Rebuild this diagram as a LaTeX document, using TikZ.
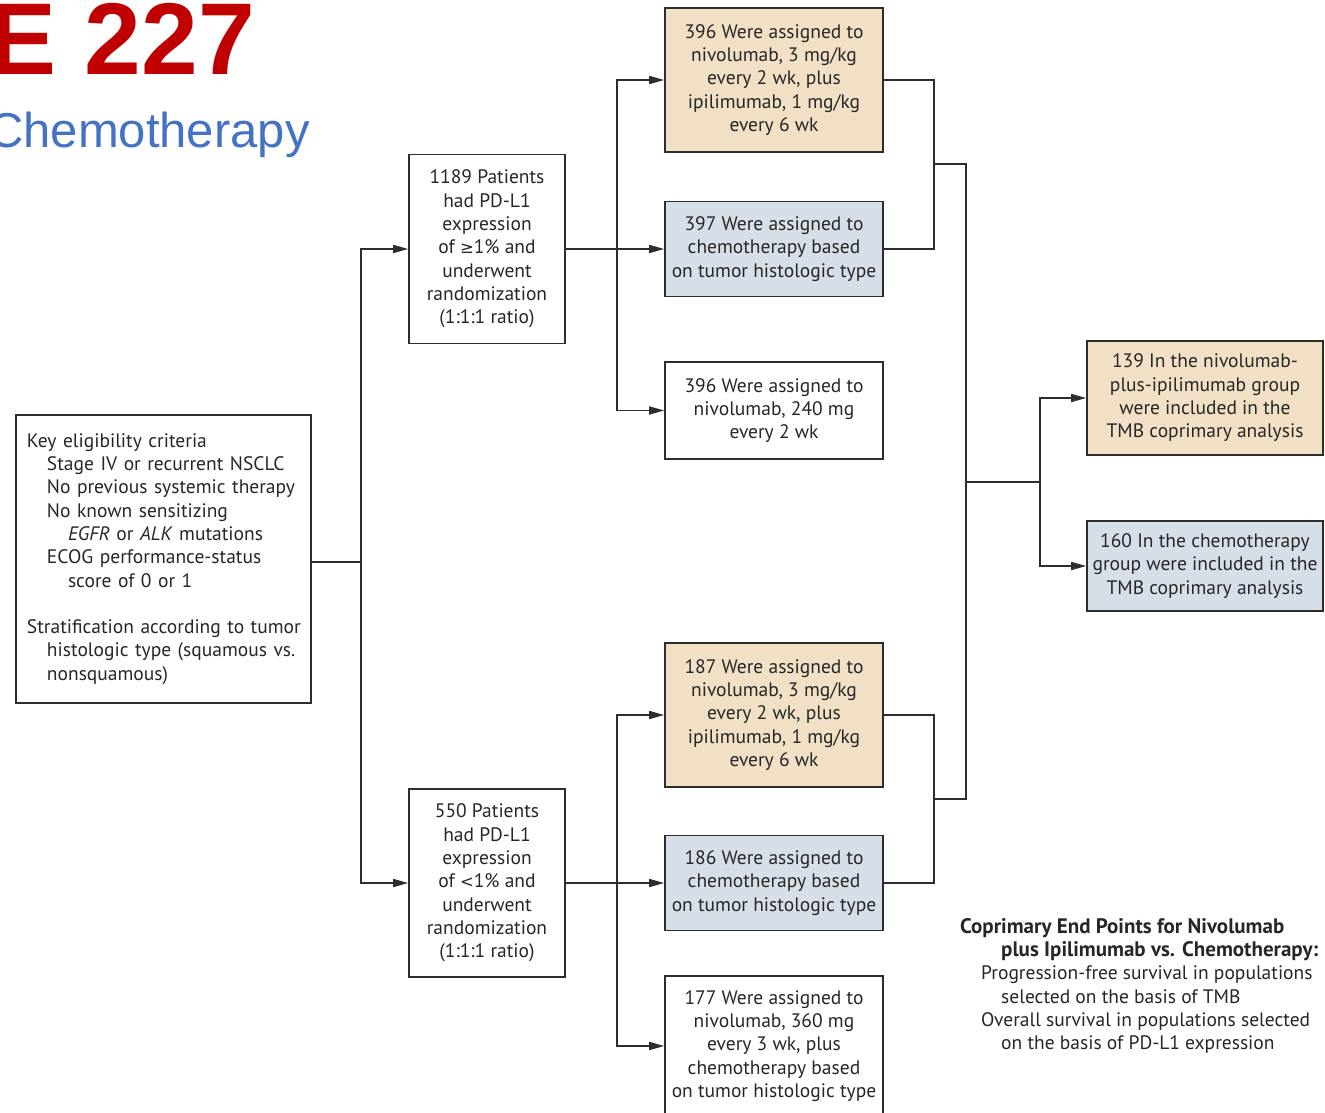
\documentclass[tikz,border=0pt]{standalone}
\usepackage{fontspec}
\setmainfont{PT Sans}
\newfontfamily\symf{DejaVu Sans}
\newfontfamily\arialf{Liberation Sans}
\usetikzlibrary{arrows.meta}
\definecolor{tanfill}{RGB}{242,224,198}
\definecolor{bluefill}{RGB}{214,223,231}
\definecolor{linec}{RGB}{45,45,45}
\definecolor{titlered}{RGB}{192,0,0}
\definecolor{titleblue}{RGB}{68,114,196}
\newcommand{\kline}[2][0pt]{\hspace*{#1}\mbox{#2}}
\begin{document}
\begin{tikzpicture}[x=1pt,y=-1pt,
  box/.style={draw=linec,line width=1.6pt,align=center,inner sep=0pt,
    font=\fontsize{19.5}{23.3}\selectfont,text=black!85},
  tanbox/.style={box,fill=tanfill},
  bluebox/.style={box,fill=bluefill},
  conn/.style={draw=linec,line width=1.6pt},
  arr/.style={conn,-{Triangle[length=15pt,width=8pt]}},
  ]
\useasboundingbox (0,0) rectangle (1325,1113);
\begin{scope}
\clip (0,0) rectangle (1325,1113);
% title
\node[anchor=base west,inner sep=0pt,text=titlered,font=\arialf\bfseries\fontsize{102}{102}\selectfont] (t227) at (-11.5,75) {E 227};
\node[anchor=base west,inner sep=0pt,text=titleblue,font=\arialf\fontsize{49}{49}\selectfont] (tchemo) at (-12,148) {Chemotherapy};
% key box
\node[box,align=left,text width=273pt,minimum height=288pt,inner xsep=11pt] (key) at (163.5,559) {\kline{Key eligibility criteria}\\
\kline[20pt]{Stage IV or recurrent NSCLC}\\
\kline[20pt]{No previous systemic therapy}\\
\kline[20pt]{No known sensitizing}\\
\kline[41pt]{\textit{EGFR} or \textit{ALK} mutations}\\
\kline[20pt]{ECOG performance-status}\\
\kline[41pt]{score of 0 or 1}\\[23.3pt]
\kline{Stratification according to tumor}\\
\kline[20pt]{histologic type (squamous vs.}\\
\kline[20pt]{nonsquamous)}};
% patients boxes
\node[box,minimum width=156pt,minimum height=189pt] (p1) at (487,249) {1189 Patients\\had PD-L1\\expression\\of {\symf\fontsize{16.5}{23.3}\selectfont ≥}1\% and\\underwent\\randomization\\(1:1:1 ratio)};
\node[box,minimum width=156pt,minimum height=188pt] (p2) at (487,883) {550 Patients\\had PD-L1\\expression\\of {\symf\fontsize{16.5}{23.3}\selectfont <}1\% and\\underwent\\randomization\\(1:1:1 ratio)};
% arms top
\node[tanbox,minimum width=218pt,minimum height=144pt] (a1) at (774,80) {396 Were assigned to\\nivolumab, 3 mg/kg\\every 2 wk, plus\\ipilimumab, 1 mg/kg\\every 6 wk};
\node[bluebox,minimum width=218pt,minimum height=95pt] (a2) at (774,249) {397 Were assigned to\\chemotherapy based\\on tumor histologic type};
\node[box,minimum width=218pt,minimum height=97pt] (a3) at (774,410.5) {396 Were assigned to\\nivolumab, 240 mg\\every 2 wk};
% arms bottom
\node[tanbox,minimum width=218pt,minimum height=144pt] (b1) at (774,715) {187 Were assigned to\\nivolumab, 3 mg/kg\\every 2 wk, plus\\ipilimumab, 1 mg/kg\\every 6 wk};
\node[bluebox,minimum width=218pt,minimum height=95pt] (b2) at (774,883) {186 Were assigned to\\chemotherapy based\\on tumor histologic type};
\node[box,minimum width=218pt,minimum height=140pt] (b3) at (774,1046) {177 Were assigned to\\nivolumab, 360 mg\\every 3 wk, plus\\chemotherapy based\\on tumor histologic type};
% TMB boxes
\node[tanbox,minimum width=236pt,minimum height=114pt] (t1) at (1205,398) {139 In the nivolumab-\\plus-ipilimumab group\\were included in the\\TMB coprimary analysis};
\node[bluebox,minimum width=236pt,minimum height=90pt] (t2) at (1205,566) {160 In the chemotherapy\\group were included in the\\TMB coprimary analysis};
% end points
\node[anchor=north west,inner sep=0pt,align=left,font=\fontsize{19.5}{23.3}\selectfont,text=black!85] (ep) at (960,918) {{\bfseries\fontsize{21}{23.3}\selectfont Coprimary End Points for Nivolumab}\\
\hspace*{41pt}{\bfseries\fontsize{21}{23.3}\selectfont plus Ipilimumab vs. Chemotherapy:}\\
\hspace*{21pt}Progression-free survival in populations\\
\hspace*{41pt}selected on the basis of TMB\\
\hspace*{21pt}Overall survival in populations selected\\
\hspace*{41pt}on the basis of PD-L1 expression};
% connectors
\coordinate (j0) at (361,562);
\draw[conn] (key.east |- j0) -- (j0);
\draw[arr] (j0) |- (p1.west);
\draw[arr] (j0) |- (p2.west);
\coordinate (s1) at (617,249);
\draw[arr] (p1.east) -- (a2.west);
\draw[arr] (s1) |- (a1.west);
\draw[arr] (s1) |- (a3.west);
\coordinate (s2) at (617,883);
\draw[arr] (p2.east) -- (b2.west);
\draw[arr] (s2) |- (b1.west);
\draw[arr] (s2) |- (b3.west);
\coordinate (m1) at (934,164);
\coordinate (m2) at (934,799);
\coordinate (c1) at (966,164);
\coordinate (c2) at (966,799);
\draw[conn] (a1.east) -| (m1) |- (a2.east);
\draw[conn] (b1.east) -| (m2) |- (b2.east);
\draw[conn] (m1) -- (c1) -- (c2) -- (m2);
\coordinate (cj) at (966,482);
\coordinate (j3) at (1040,482);
\draw[conn] (cj) -- (j3);
\draw[arr] (j3) |- (t1.west);
\draw[arr] (j3) |- (t2.west);
\end{scope}
\end{tikzpicture}
\end{document}
